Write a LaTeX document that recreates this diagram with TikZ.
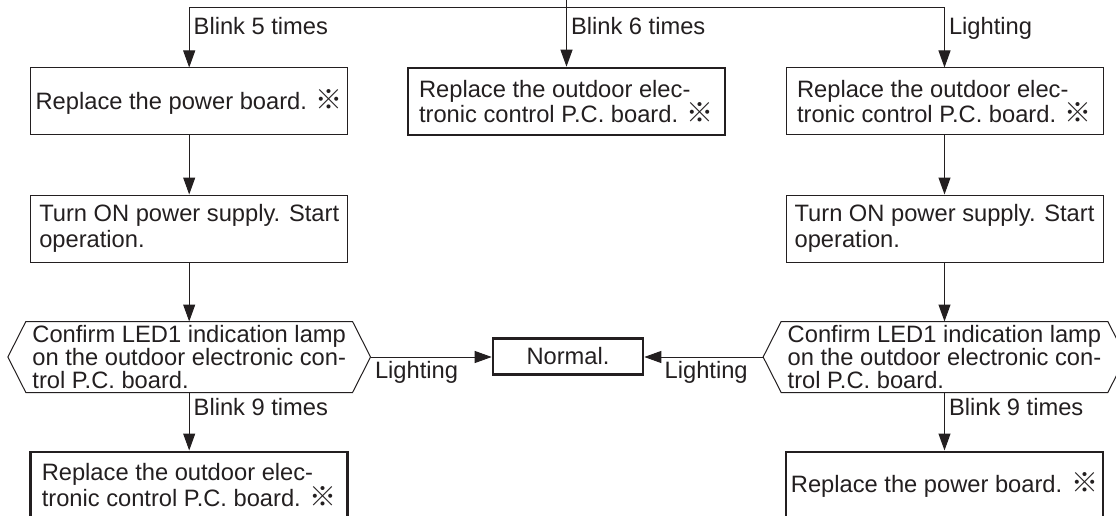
\documentclass[tikz,border=0pt]{standalone}
\usepackage{fontspec}
\setmainfont{Liberation Sans}
\newfontfamily\cjkfont{Noto Sans CJK JP}
\usepackage{tikz}
\usetikzlibrary{
  arrows.meta,
  positioning,
  calc
}
\definecolor{InkGray}{RGB}{35,31,32}
\newcommand{\refmark}{{\cjkfont\fontsize{27}{23}\selectfont ※}}
\newcommand{\boxfont}{\fontsize{23.7}{23}\selectfont}
\newcommand{\spacedfont}{\fontsize{23.7}{26}\selectfont}
\tikzset{
  stepbox/.style={draw=InkGray,line width=1pt,minimum width=317pt,minimum height=67pt,inner xsep=4pt,align=left,font=\boxfont,text=InkGray},
  finalbox/.style={stepbox,line width=2.6pt},
  checknode/.style={minimum width=326.7pt,minimum height=71pt,inner xsep=4pt,inner ysep=0pt,outer sep=0pt,align=left,font=\boxfont,text=InkGray},
  hexline/.style={draw=InkGray,line width=1pt},
  resultbox/.style={draw=InkGray,line width=2.6pt,minimum width=150pt,minimum height=36pt,font=\boxfont,text=InkGray},
  flowarrow/.style={-{Triangle[length=17pt,width=12pt]},line width=1pt,draw=InkGray},
  flowlabel/.style={font=\boxfont,text=InkGray,inner xsep=4pt,inner ysep=0pt,anchor=base west}
}
\begin{document}
\begin{tikzpicture}[x=1pt,y=-1pt,node distance=59pt]
\useasboundingbox (0,0) rectangle (1116,516);
\clip (0,0) rectangle (1116,516);
% top row
\node[stepbox] (pwr1) at (189.2,101.5) {Replace the power board. \refmark};
\node[finalbox] (pcb0) at (566.5,101.5) {Replace the outdoor elec-\\tronic control P.C. board. \refmark};
\node[stepbox] (pcb2) at (944.5,101.5) {Replace the outdoor elec-\\tronic control P.C. board. \refmark};
% left column
\node[stepbox,font=\spacedfont,below=of pwr1] (on1) {Turn ON power supply. Start\\operation.};
\node[checknode,below=of on1] (conf1) {Confirm LED1 indication lamp\\on the outdoor electronic con-\\trol P.C. board.};
\node[finalbox,below=58pt of conf1] (pcb1) {Replace the outdoor elec-\\tronic control P.C. board. \refmark};
% right column
\node[stepbox,font=\spacedfont,below=of pcb2] (on2) {Turn ON power supply. Start\\operation.};
\node[checknode,below=of on2] (conf2) {Confirm LED1 indication lamp\\on the outdoor electronic con-\\trol P.C. board.};
\node[finalbox,below=58pt of conf2] (pwr2) {Replace the power board. \refmark};
% result
\node[resultbox] (normal) at (568,356.5) {Normal.};
% hexagon outlines
\foreach \n in {conf1,conf2}
  \draw[hexline] (\n.north west) -- (\n.north east) -- ($(\n.east)+(18,0)$) -- (\n.south east)
    -- (\n.south west) -- ($(\n.west)+(-18,0)$) -- cycle;
\coordinate (c1r) at ($(conf1.east)+(18,0)$);
\coordinate (c2l) at ($(conf2.west)+(-18,0)$);
% connectors
\coordinate (src) at (566.5,0);
\coordinate (fork) at (566.5,8);
\draw[flowarrow] (src) -- node[flowlabel,pos=0.515]{Blink 6 times} (pcb0);
\draw[flowarrow] (fork) -| node[flowlabel,pos=0.725]{Blink 5 times} (pwr1);
\draw[flowarrow] (fork) -| node[flowlabel,pos=0.725]{Lighting} (pcb2);
\draw[flowarrow] (pwr1) -- (on1);
\draw[flowarrow] (on1) -- (conf1);
\draw[flowarrow] (pcb2) -- (on2);
\draw[flowarrow] (on2) -- (conf2);
\draw[flowarrow] (conf1) -- node[flowlabel,pos=0.39]{Blink 9 times} (pcb1);
\draw[flowarrow] (conf2) -- node[flowlabel,pos=0.39]{Blink 9 times} (pwr2);
\draw[flowarrow] (c1r) -- node[flowlabel,pos=0,yshift=-21.6pt]{Lighting} (c1r -| normal.west);
\draw[flowarrow] (c2l) -- node[flowlabel,anchor=base east,pos=0,xshift=-11pt,yshift=-21.6pt]{Lighting} (c2l -| normal.east);
\end{tikzpicture}
\end{document}
